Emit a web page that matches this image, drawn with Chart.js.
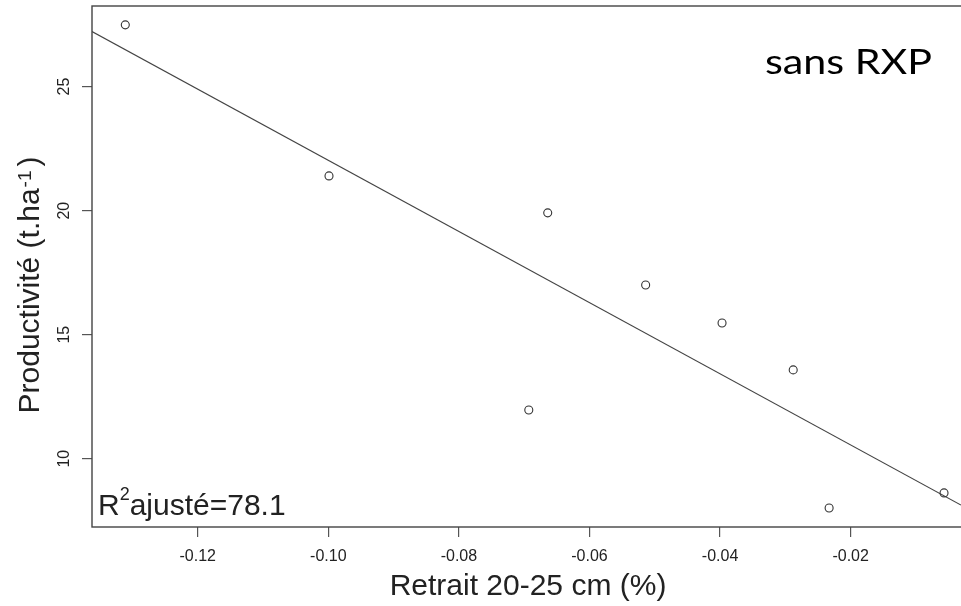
<!DOCTYPE html>
<html>
<head>
<meta charset="utf-8">
<script src="https://cdn.jsdelivr.net/npm/chart.js@4.4.0/dist/chart.umd.min.js"></script>
<style>
  html, body { margin: 0; padding: 0; background: #fff; }
</style>
</head>
<body>
<canvas id="scatter" width="961" height="606"></canvas>
<script>
// values
const retrait = [-0.1311, -0.0999, -0.0664, -0.0514, -0.0397, -0.0288, -0.0693, -0.0233, -0.0057];
const productivite = [27.49, 21.40, 19.91, 17.00, 15.47, 13.58, 11.96, 8.01, 8.62];
const fitX = [-0.1362, -0.0031];
const fitY = [27.22, 8.13];
const xTicks = [-0.12, -0.10, -0.08, -0.06, -0.04, -0.02];
const yTicks = [10, 15, 20, 25];
const xRange = [-0.1362, -0.0031];
const yRange = [7.246, 28.25];

const FONT = '"Liberation Sans", Arial, sans-serif';
const INK = '#222';

const framePlugin = {
    id: 'frame',
    afterDraw(chart) {
        const { ctx, chartArea: a, scales } = chart;
        ctx.save();

        // box round the plot (right side falls off the canvas, as in the crop)
        ctx.strokeStyle = '#444';
        ctx.lineWidth = 1.4;
        ctx.strokeRect(a.left, a.top, a.right - a.left + 2, a.bottom - a.top);

        ctx.fillStyle = INK;

        // y tick labels, turned like R does
        ctx.font = '16px ' + FONT;
        ctx.textAlign = 'center';
        ctx.textBaseline = 'alphabetic';
        yTicks.forEach((v) => {
            const y = scales.y.getPixelForValue(v);
            ctx.save();
            ctx.translate(69, y);
            ctx.rotate(-Math.PI / 2);
            ctx.fillText(String(v), 0, 0);
            ctx.restore();
        });

        // x title
        ctx.font = '30px ' + FONT;
        ctx.textAlign = 'center';
        ctx.fillText('Retrait 20-25 cm (%)', 528, 595);

        // y title with superscript
        ctx.save();
        ctx.translate(39, 285);
        ctx.rotate(-Math.PI / 2);
        ctx.textAlign = 'left';
        const main = 'Productivité (t.ha';
        const sup = '-1';
        ctx.font = '30px ' + FONT;
        const wMain = ctx.measureText(main).width;
        const wClose = ctx.measureText(')').width;
        ctx.font = '19px ' + FONT;
        const wSup = ctx.measureText(sup).width;
        const total = wMain + wSup + 5 + wClose;
        let x = -total / 2;
        ctx.font = '30px ' + FONT;
        ctx.fillText(main, x, 0);
        x += wMain + 1;
        ctx.font = '19px ' + FONT;
        ctx.fillText(sup, x, -8);
        x += wSup + 4;
        ctx.font = '30px ' + FONT;
        ctx.fillText(')', x, 0);
        ctx.restore();

        // R2 label
        ctx.textAlign = 'left';
        ctx.font = '30px ' + FONT;
        let rx = 98;
        ctx.fillText('R', rx, 515);
        rx += ctx.measureText('R').width;
        ctx.font = '18px ' + FONT;
        ctx.fillText('2', rx, 500);
        rx += ctx.measureText('2').width;
        ctx.font = '30px ' + FONT;
        ctx.fillText('ajusté=78.1', rx, 515);

        // panel tag, the original is a stretched Calibri-like face
        ctx.save();
        ctx.font = '34px Lato, "Open Sans", sans-serif';
        ctx.fillStyle = '#000';
        const tagW = ctx.measureText('sans RXP').width;
        ctx.translate(765, 74);
        ctx.scale(167 / tagW, 1);
        ctx.fillText('sans RXP', 0, 0);
        ctx.restore();

        ctx.restore();
    }
};

const ctx = document.getElementById('scatter').getContext('2d');
const chart = new Chart(ctx, {
    type: 'scatter',
    data: {
        datasets: [{
            label: 'points',
            data: retrait.map((x, i) => ({ x: x, y: productivite[i] })),
            pointStyle: 'circle',
            pointRadius: 4,
            pointBorderWidth: 1.1,
            borderColor: '#333',
            backgroundColor: 'rgba(0,0,0,0)',
            pointHoverRadius: 4,
        }, {
            type: 'line',
            label: 'fit',
            data: fitX.map((x, i) => ({ x: x, y: fitY[i] })),
            borderColor: '#444',
            borderWidth: 1.2,
            pointRadius: 0,
            fill: false,
            tension: 0,
        }],
    },
    options: {
        responsive: false,
        animation: false,
        devicePixelRatio: 1,
        layout: { autoPadding: false, padding: { top: 6, left: 0, right: 0, bottom: 0 } },
        plugins: {
            legend: { display: false },
            tooltip: { enabled: false },
        },
        scales: {
            x: {
                type: 'linear',
                min: xRange[0],
                max: xRange[1],
                afterBuildTicks: (scale) => { scale.ticks = xTicks.map((v) => ({ value: v })); },
                afterFit: (scale) => {
                    scale.height = 79;
                    scale.paddingLeft = 0;
                    scale.paddingRight = 0;
                },
                border: { display: false },
                grid: { drawOnChartArea: false, drawTicks: true, tickLength: 10, color: '#555', lineWidth: 1.2 },
                ticks: {
                    padding: 10,
                    maxRotation: 0,
                    color: INK,
                    font: { family: FONT, size: 16 },
                    callback: (v) => v.toFixed(2),
                },
            },
            y: {
                type: 'linear',
                min: yRange[0],
                max: yRange[1],
                afterBuildTicks: (scale) => { scale.ticks = yTicks.map((v) => ({ value: v })); },
                afterFit: (scale) => {
                    scale.width = 92;
                    scale.paddingTop = 0;
                    scale.paddingBottom = 0;
                },
                border: { display: false },
                grid: { drawOnChartArea: false, drawTicks: true, tickLength: 10, color: '#555', lineWidth: 1.2 },
                ticks: { display: false },
            },
        },
    },
    plugins: [framePlugin],
});
</script>
</body>
</html>
